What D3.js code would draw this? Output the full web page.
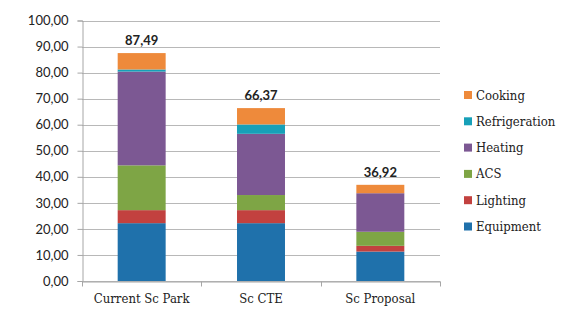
<!DOCTYPE html>
<html>
<head>
<meta charset="utf-8">
<script src="https://cdn.jsdelivr.net/npm/d3@7"></script>
<style>
  body { margin: 0; background: #fff; }
  svg { display: block; }
  .ylab { font-family: Lato, "Open Sans", sans-serif; font-size: 13px; fill: #222; }
  .cat, .leg { font-family: "DejaVu Serif Condensed", "DejaVu Serif", serif; font-stretch: condensed; font-size: 13px; fill: #222; }
  .total { font-family: Lato, sans-serif; font-weight: bold; font-size: 13px; fill: #222; }
</style>
</head>
<body>
<svg id="chart" width="588" height="326"></svg>
<script>
// scenarios and energy use per end use
var scenarios = ["Current Sc Park", "Sc CTE", "Sc Proposal"];
var uses = ["Equipment", "Lighting", "ACS", "Heating", "Refrigeration", "Cooking"];
var colors = ["#1f71ab", "#c2413f", "#7ea545", "#7c5893", "#17a0b8", "#ee8a3b"];
var equipment     = [22.2, 22.2, 11.3];
var lighting      = [5.0, 5.0, 2.2];
var acs           = [17.2, 5.8, 5.4];
var heating       = [36.0, 23.5, 14.8];
var refrigeration = [0.8, 3.6, 0.0];
var cooking       = [6.29, 6.27, 3.22];
var totals        = [87.49, 66.37, 36.92];
var yTicks = [0, 10, 20, 30, 40, 50, 60, 70, 80, 90, 100];

var svg = d3.select("#chart");
var plotL = 82, plotR = 440, plotT = 20.5, plotB = 281;

var rows = scenarios.map(function(s, i) {
  return {
    name: s,
    Equipment: equipment[i], Lighting: lighting[i], ACS: acs[i],
    Heating: heating[i], Refrigeration: refrigeration[i], Cooking: cooking[i],
    total: totals[i]
  };
});

var x = d3.scaleBand().domain(scenarios).range([plotL, plotR])
  .paddingInner(0.598).paddingOuter(0.299);
var y = d3.scaleLinear().domain([0, 100]).range([plotB, plotT]);
var color = d3.scaleOrdinal().domain(uses).range(colors);

var fmt = function(v) { return d3.format(".2f")(v).replace(".", ","); };

// gridlines
svg.append("g")
  .selectAll("line")
  .data(yTicks)
  .enter().append("line")
  .attr("x1", plotL).attr("x2", plotR)
  .attr("y1", function(d) { return Math.round(y(d)) + 0.5; })
  .attr("y2", function(d) { return Math.round(y(d)) + 0.5; })
  .attr("stroke", "#b8b8b8");

// y axis
var yAxis = svg.append("g")
  .attr("transform", "translate(" + (plotL + 0.5) + ",0)")
  .call(d3.axisLeft(y).tickValues(yTicks).tickSize(5).tickPadding(9).tickFormat(fmt));
yAxis.attr("font-family", null).attr("font-size", null);
yAxis.select(".domain").attr("stroke", "#a6a6a6");
yAxis.selectAll(".tick line").attr("stroke", "#a6a6a6");
yAxis.selectAll(".tick text").attr("class", "ylab").attr("fill", null);

// x axis
var xAxis = svg.append("g")
  .attr("transform", "translate(0," + (Math.round(y(0)) + 0.5) + ")")
  .call(d3.axisBottom(x).tickSize(0).tickPadding(12));
xAxis.attr("font-family", null).attr("font-size", null);
xAxis.select(".domain").attr("stroke", "#a6a6a6");
xAxis.selectAll(".tick text").attr("class", "cat").attr("fill", null);
// category separators
var step = x.step();
xAxis.selectAll(".sep")
  .data(d3.range(scenarios.length + 1))
  .enter().append("line")
  .attr("x1", function(i) { return Math.round(plotL + i * step) + 0.5; })
  .attr("x2", function(i) { return Math.round(plotL + i * step) + 0.5; })
  .attr("y1", 0).attr("y2", 5)
  .attr("stroke", "#a6a6a6");

// stacked bars
var series = d3.stack().keys(uses)(rows);
svg.append("g")
  .selectAll("g")
  .data(series)
  .enter().append("g")
  .attr("fill", function(d) { return color(d.key); })
  .selectAll("rect")
  .data(function(d) { return d; })
  .enter().append("rect")
  .attr("x", function(d) { return x(d.data.name); })
  .attr("width", x.bandwidth())
  .attr("y", function(d) { return y(d[1]); })
  .attr("height", function(d) { return y(d[0]) - y(d[1]); });

// totals
svg.append("g")
  .selectAll("text")
  .data(rows)
  .enter().append("text")
  .attr("class", "total")
  .attr("text-anchor", "middle")
  .attr("x", function(d) { return x(d.name) + x.bandwidth() / 2; })
  .attr("y", function(d) { return y(d.total) - 8; })
  .text(function(d) { return fmt(d.total); });

// legend, top entry is the last stacked series
var legend = svg.append("g")
  .selectAll("g")
  .data(uses.slice().reverse())
  .enter().append("g")
  .attr("transform", function(d, i) { return "translate(464," + (95 + i * 26.3) + ")"; });
legend.append("rect")
  .attr("x", 0).attr("y", -4).attr("width", 8).attr("height", 8)
  .attr("fill", function(d) { return color(d); });
legend.append("text")
  .attr("class", "leg")
  .attr("x", 12).attr("dy", "0.35em")
  .text(function(d) { return d; });
</script>
</body>
</html>
